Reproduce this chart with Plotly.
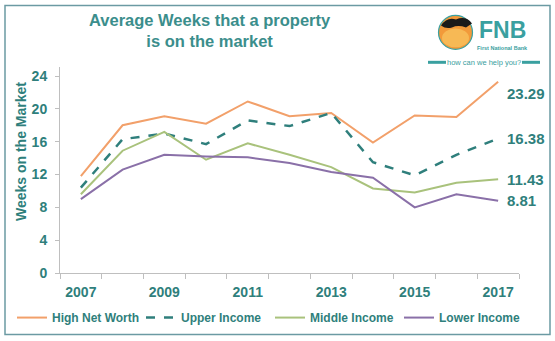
import plotly.graph_objects as go

years = list(range(2007, 2018))
high_net_worth = [11.8, 18.0, 19.1, 18.2, 20.9, 19.1, 19.5, 15.9, 19.2, 19.0, 23.29]
upper_income = [10.4, 16.3, 17.0, 15.7, 18.6, 17.9, 19.5, 13.5, 11.9, 14.4, 16.38]
middle_income = [9.6, 14.9, 17.2, 13.8, 15.8, 14.4, 12.9, 10.3, 9.8, 11.0, 11.43]
lower_income = [9.0, 12.6, 14.4, 14.2, 14.1, 13.4, 12.3, 11.6, 8.0, 9.6, 8.81]
y_ticks = [0, 4, 8, 12, 16, 20, 24]
x_ticks = [2007, 2009, 2011, 2013, 2015, 2017]

TEAL = "#2f7f7c"
TITLE = "#3b8e8c"
LOGO = "#3aa0a0"
FONT = "Liberation Sans, Arial, sans-serif"

W_FIG, H_FIG = 555, 341
L, R, T, B = 60, 519, 66.7, 273.3
PW, PH = R - L, B - T


def px(x):
    return (x - L) / PW


def py(y):
    return (B - y) / PH


series = [
    ("High Net Worth", high_net_worth, "#f2a06a", "solid", 2),
    ("Upper Income", upper_income, "#2f7f7c", "dash", 2.5),
    ("Middle Income", middle_income, "#a9c27c", "solid", 2),
    ("Lower Income", lower_income, "#8a70a8", "solid", 2),
]

fig = go.Figure()
for name, vals, col, dash, w in series:
    fig.add_trace(go.Scatter(x=years, y=vals, mode="lines", name=name,
                             line=dict(color=col, width=w, dash=dash)))

# end labels
shifts = {"High Net Worth": -12, "Upper Income": 0, "Middle Income": 0, "Lower Income": 0}
for name, vals, col, dash, w in series:
    fig.add_annotation(x=years[-1], y=vals[-1], text=f"{vals[-1]:.2f}", showarrow=False,
                       xanchor="left", xshift=7, yshift=shifts[name],
                       font=dict(family=FONT, size=15, color=TEAL, weight="bold"))

# title
fig.add_annotation(xref="paper", yref="paper", x=px(210), y=py(30), text="Average Weeks that a property<br>is on the market",
                   showarrow=False, xanchor="center", yanchor="middle",
                   font=dict(family=FONT, size=16.5, color=TITLE, weight="bold"))

# y axis title
fig.add_annotation(xref="paper", yref="paper", x=px(21), y=py(152), text="Weeks on the Market",
                   showarrow=False, textangle=-90, xanchor="center", yanchor="middle",
                   font=dict(family=FONT, size=14, color=TEAL, weight="bold"))

shapes = []
# border
shapes.append(dict(type="rect", xref="paper", yref="paper", x0=px(5), x1=px(550), y0=py(335), y1=py(5),
                   line=dict(color="#6b9aa3", width=1.5), fillcolor="rgba(0,0,0,0)", layer="below"))
# logo circle
shapes.append(dict(type="circle", xref="paper", yref="paper", x0=px(438.5), x1=px(472.5), y0=py(49), y1=py(15),
                   line=dict(color=LOGO, width=1.2), fillcolor="#f29a3a"))
shapes.append(dict(type="circle", xref="paper", yref="paper", x0=px(442), x1=px(469), y0=py(47), y1=py(28),
                   line=dict(width=0), fillcolor="#f7b955"))


def path(pts):
    s = ""
    for cmd, coords in pts:
        s += cmd
        if coords:
            s += " ".join(f"{px(a):.5f},{py(b):.5f}" for a, b in coords) + " "
    return s


canopy = path([("M", [(441, 25)]), ("Q", [(447, 16), (456, 19)]), ("Q", [(466, 15), (472, 23)]),
               ("L", [(466, 27)]), ("Q", [(458, 24), (452, 27)]), ("Q", [(446, 29), (441, 25)]), ("Z", [])])
trunk = path([("M", [(453, 26)]), ("L", [(455, 48), (459, 48), (458, 27)]), ("Z", [])])
branch = path([("M", [(456, 35)]), ("L", [(446, 27), (449, 27), (457, 32)]), ("Z", [])])
branch2 = path([("M", [(457, 33)]), ("L", [(464, 27), (466, 27), (458, 36)]), ("Z", [])])
for p in (canopy, trunk, branch, branch2):
    shapes.append(dict(type="path", xref="paper", yref="paper", path=p, fillcolor="#1a1a1a",
                       line=dict(width=0)))
# tagline bars
shapes.append(dict(type="rect", xref="paper", yref="paper", x0=px(428), x1=px(446), y0=py(63.5), y1=py(60.5),
                   fillcolor=LOGO, line=dict(width=0)))
shapes.append(dict(type="rect", xref="paper", yref="paper", x0=px(522), x1=px(540), y0=py(63.5), y1=py(60.5),
                   fillcolor=LOGO, line=dict(width=0)))

fig.add_annotation(xref="paper", yref="paper", x=px(502), y=py(30), text="FNB", showarrow=False,
                   xanchor="center", yanchor="middle",
                   font=dict(family=FONT, size=23, color=LOGO, weight="bold"))
fig.add_annotation(xref="paper", yref="paper", x=px(502), y=py(47.5), text="First National Bank", showarrow=False,
                   xanchor="center", yanchor="middle",
                   font=dict(family=FONT, size=5.5, color=LOGO, weight="bold"))
fig.add_annotation(xref="paper", yref="paper", x=px(484), y=py(62.5), text="how can we help you?", showarrow=False,
                   xanchor="center", yanchor="middle",
                   font=dict(family=FONT, size=7.5, color=LOGO))

fig.update_layout(
    width=W_FIG, height=H_FIG,
    margin=dict(l=L, r=W_FIG - R, t=T, b=H_FIG - B, pad=0, autoexpand=False),
    paper_bgcolor="white", plot_bgcolor="white",
    showlegend=True,
    shapes=shapes,
    legend=dict(orientation="h", xref="paper", yref="paper",
                x=px(12), xanchor="left", y=py(318), yanchor="middle",
                font=dict(family=FONT, size=12, color=TEAL, weight="bold"),
                bgcolor="rgba(0,0,0,0)", itemwidth=30, tracegroupgap=0,
                entrywidth=84, entrywidthmode="pixels"),
    xaxis=dict(range=[2006.5, 2017.5], tickvals=x_ticks, ticktext=[str(v) for v in x_ticks],
               showgrid=False, zeroline=False, showline=True, linecolor="#bfbfbf", linewidth=1,
               ticks="", tickfont=dict(family=FONT, size=14, color=TEAL, weight="bold"),
               ticklabelstandoff=6,
               minor=dict(tick0=2006.5, dtick=1, ticks="outside", ticklen=5, tickcolor="#bfbfbf", showgrid=False)),
    yaxis=dict(range=[0, 25.1], tickvals=y_ticks, showgrid=False, zeroline=False, showline=True,
               linecolor="#bfbfbf", linewidth=1, ticks="outside", ticklen=4, tickcolor="#bfbfbf",
               tickfont=dict(family=FONT, size=14, color=TEAL, weight="bold"), ticklabelstandoff=5),
)

fig.write_html("out.html")
